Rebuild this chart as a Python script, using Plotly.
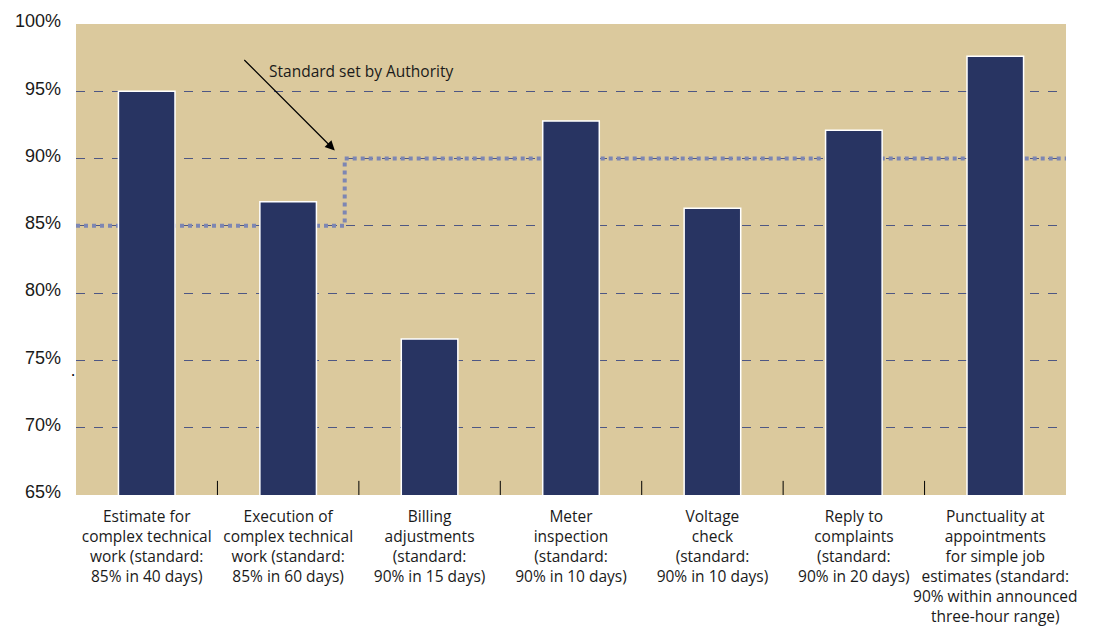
import plotly.graph_objects as go

categories = [
    "Estimate for<br>complex technical<br>work (standard:<br>85% in 40 days)",
    "Execution of<br>complex technical<br>work (standard:<br>85% in 60 days)",
    "Billing<br>adjustments<br>(standard:<br>90% in 15 days)",
    "Meter<br>inspection<br>(standard:<br>90% in 10 days)",
    "Voltage<br>check<br>(standard:<br>90% in 10 days)",
    "Reply to<br>complaints<br>(standard:<br>90% in 20 days)",
    "Punctuality at<br>appointments<br>for simple job<br>estimates (standard:<br>90% within announced<br>three-hour range)",
]
values = [95.0, 86.8, 76.6, 92.8, 86.3, 92.1, 97.6]
standard_x = [-0.5, 1.4, 1.4, 6.5]
standard_y = [85, 85, 90, 90]
y_ticks = [65, 70, 75, 80, 85, 90, 95, 100]
y_tick_labels = [f"{v}%" for v in y_ticks]
separators = [0.5, 1.5, 2.5, 3.5, 4.5, 5.5]

xpos = list(range(len(categories)))
font_family = "Open Sans, Liberation Sans, sans-serif"

fig = go.Figure()
fig.add_trace(go.Bar(
    x=xpos, y=values, base=0, width=0.4,
    marker=dict(color="#283462", line=dict(color="white", width=1.5)),
    showlegend=False, hoverinfo="skip",
))

path = "M " + " L ".join(f"{x},{y}" for x, y in zip(standard_x, standard_y))
fig.add_shape(type="path", path=path, xref="x", yref="y", layer="between",
              line=dict(color="#7d86b3", width=4, dash="dot"))

for s in separators:
    fig.add_shape(type="line", xref="x", yref="paper", x0=s, x1=s, y0=0, y1=0.03,
                  line=dict(color="black", width=1), layer="above")

fig.add_annotation(x=1.33, y=90.6, xref="x", yref="y", ax=-92, ay=-92,
                   showarrow=True, arrowhead=2, arrowsize=1.6, arrowwidth=1.2,
                   arrowcolor="black", text="")
fig.add_annotation(x=1.515, y=96.5, xref="x", yref="y", showarrow=False,
                   text="Standard set by Authority",
                   font=dict(family=font_family, size=15.5, color="#1a1a1a"))
fig.add_annotation(x=0, y=74.3, xref="paper", yref="y", xshift=-3, showarrow=False,
                   text=".", font=dict(size=16, color="black"), xanchor="center")

fig.update_layout(
    width=1108, height=632,
    margin=dict(l=76, r=42, t=24, b=137),
    paper_bgcolor="white", plot_bgcolor="#dbc99d",
    font=dict(family=font_family, color="#1a1a1a"),
)
fig.update_xaxes(
    range=[-0.5, 6.5], tickmode="array", tickvals=xpos, ticktext=categories,
    ticks="", showgrid=False, zeroline=False, showline=False, automargin=False,
    tickfont=dict(family=font_family, size=15.5, color="#1a1a1a"),
    tickangle=0, ticklabelstandoff=10,
)
fig.update_yaxes(
    range=[65, 100], tickmode="array", tickvals=y_ticks, ticktext=y_tick_labels,
    showgrid=True, gridcolor="#4e5784", griddash="dash", gridwidth=1,
    zeroline=False, showline=False, ticks="", automargin=False,
    tickfont=dict(family="Liberation Sans, Arial, sans-serif", size=18, color="#1a1a1a"),
    ticklabelstandoff=14, ticklabelshift=-3,
)

fig.write_html("out.html")
